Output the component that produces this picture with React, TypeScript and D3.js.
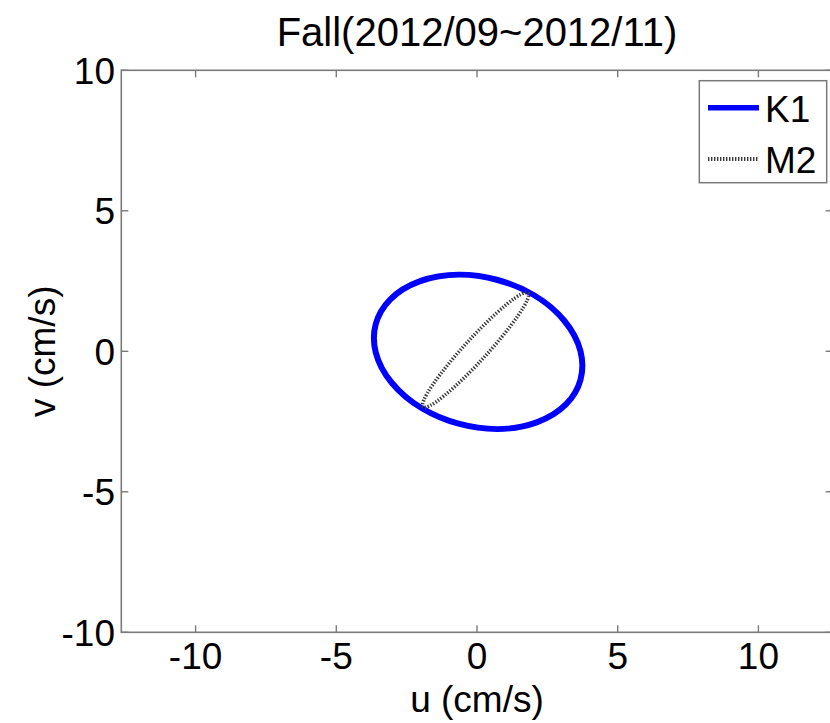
import React from "react";
import * as d3 from "d3";

// Tidal ellipse parameters (cm/s, degrees counter-clockwise from u-axis)
const constituents = ["K1", "M2"];
const semiMajor = [3.77, 2.75];
const semiMinor = [2.65, 0.4];
const inclination = [-15.2, 47.4];
const centerU = [0.04, -0.05];
const centerV = [-0.02, 0.05];

const xTicks = [-10, -5, 0, 5, 10];
const yTicks = [-10, -5, 0, 5, 10];
const xDomain = [-12.64, 12.64];
const yDomain = [-10, 10];

const W = 830;
const H = 723;
const left = 121.3;
const right = 832.7;
const top = 70.3;
const bottom = 632.3;

const FONT = "'Liberation Sans', Arial, Helvetica, sans-serif";
const FS = 37;

const styles = [
  { stroke: "#0000ff", width: 6, dash: undefined as string | undefined },
  { stroke: "#3a3a3a", width: 3.6, dash: "1.4 1.6" },
];

export default function App() {
  const x = d3.scaleLinear().domain(xDomain).range([left, right]);
  const y = d3.scaleLinear().domain(yDomain).range([bottom, top]);
  const axisColor = "#7a7a7a";
  const tickLen = 7;

  return (
    <svg
      width={W}
      height={H}
      style={{ position: "fixed", left: 0, top: 0, background: "#fff" }}
      fontFamily={FONT}
    >
      <rect x={0} y={0} width={W} height={H} fill="#fff" />
      {/* Title */}
      <text x={(left + right) / 2} y={46} textAnchor="middle" fontSize={40} fill="#000">
        Fall(2012/09~2012/11)
      </text>

      {/* Ellipses */}
      <g>
        {constituents.map((c, i) => {
          const cx = x(centerU[i]);
          const cy = y(centerV[i]);
          const rx = x(centerU[i] + semiMajor[i]) - cx;
          const ry = cy - y(centerV[i] + semiMinor[i]);
          return (
            <ellipse
              key={c}
              cx={cx}
              cy={cy}
              rx={rx}
              ry={ry}
              transform={`rotate(${-inclination[i]} ${cx} ${cy})`}
              fill="none"
              stroke={styles[i].stroke}
              strokeWidth={styles[i].width}
              strokeDasharray={styles[i].dash}
            />
          );
        })}
      </g>

      {/* Frame */}
      <rect
        x={left}
        y={top}
        width={right - left}
        height={bottom - top}
        fill="none"
        stroke={axisColor}
        strokeWidth={1.6}
      />
      {/* X ticks */}
      {xTicks.map((t) => (
        <g key={"x" + t}>
          <line x1={x(t)} x2={x(t)} y1={bottom} y2={bottom - tickLen} stroke={axisColor} strokeWidth={1.4} />
          <line x1={x(t)} x2={x(t)} y1={top} y2={top + tickLen} stroke={axisColor} strokeWidth={1.4} />
          <text x={x(t)} y={669} textAnchor="middle" fontSize={FS} fill="#000">
            {t}
          </text>
        </g>
      ))}
      {/* Y ticks */}
      {yTicks.map((t) => (
        <g key={"y" + t}>
          <line x1={left} x2={left + tickLen} y1={y(t)} y2={y(t)} stroke={axisColor} strokeWidth={1.4} />
          <line x1={right} x2={right - tickLen} y1={y(t)} y2={y(t)} stroke={axisColor} strokeWidth={1.4} />
          <text x={115} y={y(t) + 13.3} textAnchor="end" fontSize={FS} fill="#000">
            {t}
          </text>
        </g>
      ))}

      {/* Axis labels */}
      <text x={(left + right) / 2} y={712} textAnchor="middle" fontSize={FS} fill="#000">
        u (cm/s)
      </text>
      <text
        transform={`translate(55 ${(top + bottom) / 2}) rotate(-90)`}
        textAnchor="middle"
        fontSize={FS}
        fill="#000"
      >
        v (cm/s)
      </text>

      {/* Legend */}
      <g>
        <rect x={699.3} y={80.7} width={127.4} height={102} fill="#fff" stroke={axisColor} strokeWidth={1.5} />
        {constituents.map((c, i) => {
          const ly = 107.7 + i * 51.3;
          return (
            <g key={"leg" + c}>
              <line
                x1={708}
                x2={759}
                y1={ly}
                y2={ly}
                stroke={styles[i].stroke}
                strokeWidth={i === 0 ? 5.5 : 4}
                strokeDasharray={styles[i].dash}
              />
              <text x={765} y={ly + 14} fontSize={FS} fill="#000">
                {c}
              </text>
            </g>
          );
        })}
      </g>
    </svg>
  );
}
